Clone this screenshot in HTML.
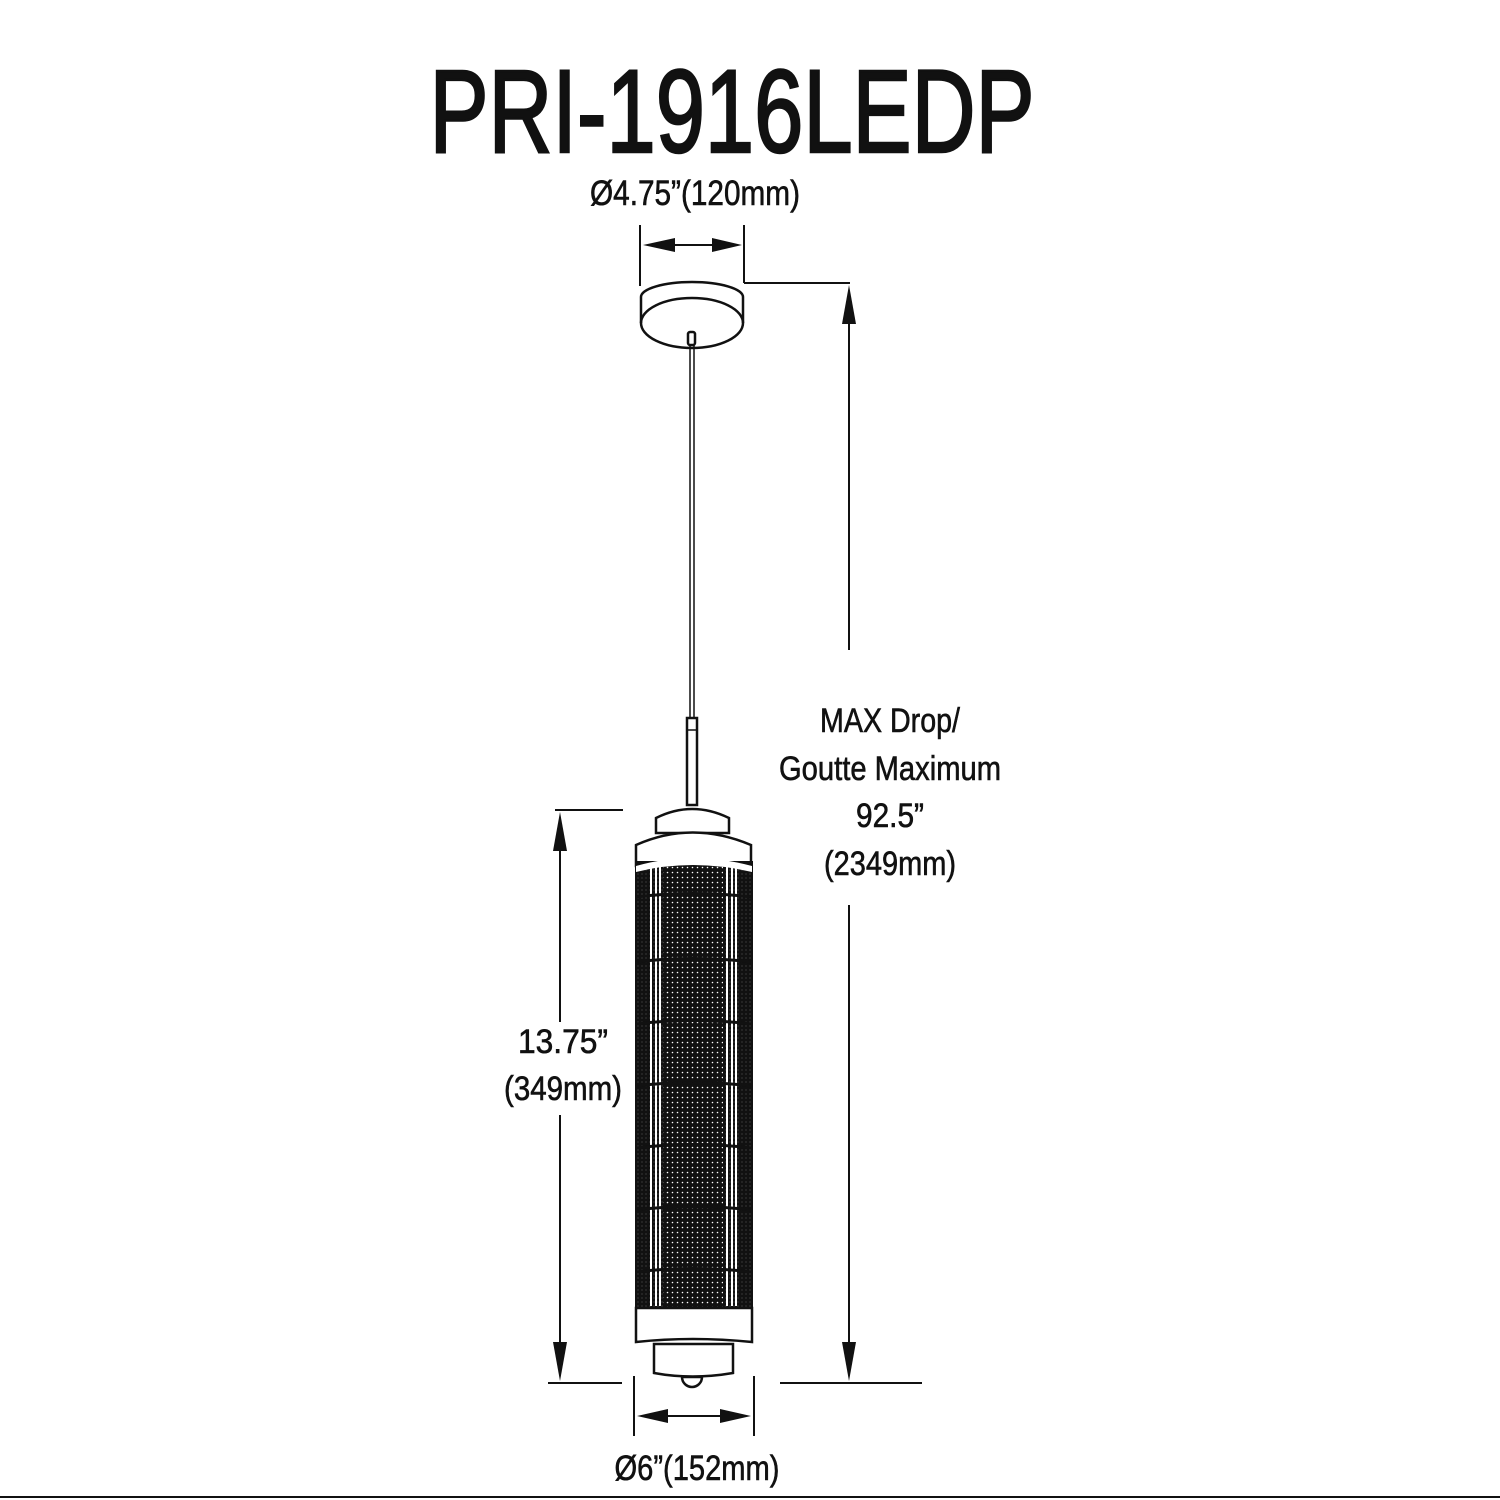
<!DOCTYPE html>
<html><head><meta charset="utf-8"><style>html,body{margin:0;padding:0;background:#fff}svg{display:block}</style></head>
<body>
<svg width="1500" height="1500" viewBox="0 0 1500 1500" xmlns="http://www.w3.org/2000/svg" font-family="Liberation Sans, Arial, sans-serif">
<defs>
<pattern id="dots" width="5" height="5" patternUnits="userSpaceOnUse">
<rect width="5" height="5" fill="#111"/><circle cx="2.5" cy="2.5" r="0.8" fill="#fff"/>
</pattern>
<pattern id="dots2" width="4" height="4" patternUnits="userSpaceOnUse">
<rect width="4" height="4" fill="#111"/><circle cx="2" cy="2" r="0.5" fill="#777"/>
</pattern>
</defs>
<g fill="#111">
<text x="732" y="152" font-size="118" text-anchor="middle" textLength="605" lengthAdjust="spacingAndGlyphs" stroke="#111" stroke-width="2.5">PRI-1916LEDP</text>
<g stroke="#111" stroke-width="0.6">
<text x="695" y="205" font-size="35" text-anchor="middle" textLength="210" lengthAdjust="spacingAndGlyphs">Ø4.75”(120mm)</text>
<g font-size="34" text-anchor="middle">
<text x="890" y="732" textLength="140" lengthAdjust="spacingAndGlyphs">MAX Drop/</text>
<text x="890" y="780" textLength="222" lengthAdjust="spacingAndGlyphs">Goutte Maximum</text>
<text x="890" y="827" textLength="68" lengthAdjust="spacingAndGlyphs">92.5”</text>
<text x="890" y="875" textLength="132" lengthAdjust="spacingAndGlyphs">(2349mm)</text>
<text x="563" y="1053" textLength="90" lengthAdjust="spacingAndGlyphs">13.75”</text>
<text x="563" y="1100" textLength="118" lengthAdjust="spacingAndGlyphs">(349mm)</text>
</g>
<text x="697" y="1480" font-size="35" text-anchor="middle" textLength="165" lengthAdjust="spacingAndGlyphs">Ø6”(152mm)</text>
</g>
</g>
<g stroke="#111" stroke-width="2" fill="none">
<line x1="640" y1="225" x2="640" y2="286"/>
<line x1="744" y1="225" x2="744" y2="283"/>
<line x1="660" y1="245" x2="725" y2="245"/>
<polyline points="744,283 850,283"/>
<line x1="849" y1="300" x2="849" y2="650"/>
<line x1="849" y1="905" x2="849" y2="1370"/>
<line x1="780" y1="1383" x2="922" y2="1383"/>
<line x1="555" y1="810" x2="623" y2="810"/>
<line x1="560" y1="825" x2="560" y2="1022"/>
<line x1="560" y1="1115" x2="560" y2="1370"/>
<line x1="548" y1="1383" x2="622" y2="1383"/>
<line x1="634" y1="1376" x2="634" y2="1436"/>
<line x1="754" y1="1376" x2="754" y2="1436"/>
<line x1="655" y1="1416" x2="735" y2="1416"/>
<line x1="0" y1="1497" x2="1500" y2="1497"/>
</g>
<g fill="#111">
<polygon points="643,245 675,238 675,252"/>
<polygon points="742,245 712,238 712,252"/>
<polygon points="849,285 842,324 856,324"/>
<polygon points="849,1381 842,1342 856,1342"/>
<polygon points="560,812 553,851 567,851"/>
<polygon points="560,1381 553,1342 567,1342"/>
<polygon points="637,1416 668,1409 668,1423"/>
<polygon points="751,1416 720,1409 720,1423"/>
</g>
<g stroke="#111" stroke-width="2.5" fill="#fff">
<path d="M641,297 A51,15 0 0 1 743,297 L743,323 A51,25 0 0 1 641,323 Z"/>
<path d="M641,323 A51,25 0 0 1 743,323" fill="none"/>
<rect x="688" y="332" width="7" height="13" rx="2"/>
<line x1="690" y1="345" x2="690" y2="718" stroke-width="1.5"/>
<line x1="694" y1="345" x2="694" y2="718" stroke-width="1.5"/>
<rect x="687" y="718" width="10" height="87"/>
<line x1="687" y1="730" x2="697" y2="730" stroke-width="1.5"/>
<path d="M656,833 L656,818 Q692,800 729,818 L729,833 Z"/>
<path d="M636,866 L636,845 Q692,820 751,845 L751,866 Z"/>
</g>
<rect x="636" y="862" width="116" height="448" fill="url(#dots2)" stroke="#111" stroke-width="2"/>
<rect x="663" y="862" width="60" height="448" fill="url(#dots)"/>
<g fill="#fff">
<rect x="650" y="866" width="2" height="440"/><rect x="655" y="866" width="2" height="440"/><rect x="659" y="866" width="2" height="440"/>
<rect x="726" y="866" width="2" height="440"/><rect x="731" y="866" width="2" height="440"/><rect x="735" y="866" width="2" height="440"/>
</g>
<g stroke="#111" stroke-width="3" fill="none">
<path d="M636,897 Q692,890 752,897"/>
<path d="M636,962 Q692,955 752,962"/>
<path d="M636,1024 Q692,1017 752,1024"/>
<path d="M636,1086 Q692,1079 752,1086"/>
<path d="M636,1148 Q692,1141 752,1148"/>
<path d="M636,1210 Q692,1203 752,1210"/>
<path d="M636,1272 Q692,1265 752,1272"/>
</g>
<path d="M636,866 Q692,850 752,866 L752,872 Q692,858 636,872 Z" fill="#fff"/>
<g stroke="#111" stroke-width="2.5" fill="#fff">
<path d="M636,1308 L752,1308 L752,1342 Q692,1336 636,1342 Z"/>
<path d="M654,1344 L733,1344 L733,1373 Q692,1380 654,1373 Z"/>
<path d="M682,1377 A10,10 0 0 0 702,1377 Z"/>
</g>
</svg>
</body></html>
